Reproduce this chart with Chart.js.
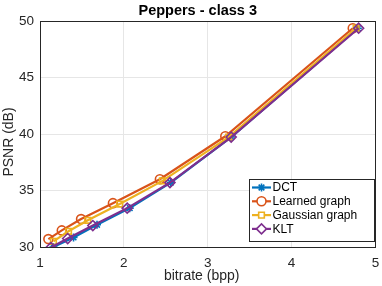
<!DOCTYPE html>
<html><head><meta charset="utf-8">
<script src="https://cdn.jsdelivr.net/npm/chart.js@4/dist/chart.umd.min.js"></script>
<style>html,body{margin:0;padding:0;background:#fff}#wrap{width:382px;height:286px}</style>
</head><body><div id="wrap"><canvas id="c" width="382" height="286"></canvas></div>
<script>
const chartTitle = "Peppers - class 3";
const xLabel = "bitrate (bpp)";
const yLabel = "PSNR (dB)";
const seriesNames = ["DCT", "Learned graph", "Gaussian graph", "KLT"];
const dctX = [1.16, 1.40, 1.68, 2.07, 2.56, 3.28, 4.79];
const dctY = [30.0, 30.85, 31.97, 33.44, 35.7, 39.73, 49.36];
const learnedX = [1.10, 1.26, 1.49, 1.87, 2.43, 3.21, 4.73];
const learnedY = [30.7, 31.47, 32.47, 33.88, 36.0, 39.8, 49.36];
const gaussX = [1.16, 1.34, 1.57, 1.95, 2.46, 3.25, 4.77];
const gaussY = [30.5, 31.39, 32.36, 33.8, 35.85, 39.73, 49.36];
const kltX = [1.13, 1.33, 1.63, 2.04, 2.55, 3.28, 4.80];
const kltY = [29.95, 30.75, 31.9, 33.44, 35.7, 39.73, 49.36];
const xTicks = [1, 2, 3, 4, 5];
const yTicks = [30, 35, 40, 45, 50];

const colors = ["#0072BD", "#D95319", "#EDB120", "#7E2F8E"];
const styles = ["star", "circle", "rect", "rectRot"];
const radii = [4, 4.5, 4, 5];
const xs = [dctX, learnedX, gaussX, kltX];
const ys = [dctY, learnedY, gaussY, kltY];
const FONT = "'Liberation Sans', Arial, Helvetica, sans-serif";
const TXT = "#262626";

const datasets = seriesNames.map((n, i) => ({
  label: n,
  data: xs[i].map((x, j) => ({x: x, y: ys[i][j]})),
  showLine: true,
  borderColor: colors[i],
  backgroundColor: colors[i],
  pointBackgroundColor: "rgba(255,255,255,0)",
  pointBorderColor: colors[i],
  pointBorderWidth: 1.6,
  pointStyle: styles[i],
  pointRadius: radii[i],
  borderWidth: 2.2,
  order: 3 - i
}));

const textPlugin = {
  id: "texts",
  afterDraw(chart) {
    const ctx = chart.ctx, a = chart.chartArea;
    ctx.save();
    ctx.textAlign = "center";
    ctx.textBaseline = "middle";
    ctx.fillStyle = "#000";
    ctx.font = "bold 14.5px " + FONT;
    ctx.fillText(chartTitle, a.left + (a.right - a.left) / 2 - 10, a.top - 10.5);
    ctx.fillStyle = TXT;
    ctx.font = "14px " + FONT;
    ctx.fillText(xLabel, a.left + (a.right - a.left) / 2 - 6, a.bottom + 29);
    ctx.translate(9, a.top + (a.bottom - a.top) / 2 + 8);
    ctx.rotate(-Math.PI / 2);
    ctx.fillText(yLabel, 0, 0);
    ctx.restore();
  }
};

const legendPlugin = {
  id: "mlegend",
  afterDraw(chart) {
    const ctx = chart.ctx;
    const ds = chart.data.datasets;
    const a = chart.chartArea;
    const w = 125, rowH = 13.8, h = 62;
    const x0 = Math.round(a.right - w - 1), y0 = Math.round(a.bottom - h - 6);
    ctx.save();
    ctx.fillStyle = "#fff";
    ctx.fillRect(x0, y0, w, h);
    ctx.strokeStyle = "#262626";
    ctx.lineWidth = 1;
    ctx.strokeRect(x0 + 0.5, y0 + 0.5, w, h);
    ds.forEach((d, i) => {
      const cy = y0 + 8.5 + i * rowH;
      ctx.strokeStyle = d.borderColor;
      ctx.lineWidth = 2.2;
      ctx.beginPath();
      ctx.moveTo(x0 + 3, cy);
      ctx.lineTo(x0 + 22, cy);
      ctx.stroke();
      ctx.strokeStyle = d.borderColor;
      ctx.fillStyle = "#fff";
      ctx.lineWidth = 1.6;
      Chart.helpers.drawPoint(ctx, {pointStyle: d.pointStyle, radius: d.pointRadius, borderWidth: 1.6, rotation: 0}, x0 + 12.5, cy);
      ctx.fillStyle = "#000";
      ctx.font = "12px " + FONT;
      ctx.textBaseline = "middle";
      ctx.textAlign = "left";
      ctx.fillText(d.label, x0 + 23.5, cy + 0.5);
    });
    ctx.restore();
  }
};

const boxPlugin = {
  id: "box",
  afterDatasetsDraw(chart) {
    const ctx = chart.ctx, a = chart.chartArea;
    ctx.save();
    ctx.strokeStyle = "#262626";
    ctx.lineWidth = 1;
    ctx.strokeRect(Math.round(a.left) + 0.5, Math.round(a.top) + 0.5, Math.round(a.right - a.left), Math.round(a.bottom - a.top));
    ctx.restore();
  }
};

new Chart(document.getElementById("c"), {
  type: "scatter",
  data: {datasets: datasets},
  options: {
    responsive: false,
    animation: false,
    devicePixelRatio: 1,
    layout: {padding: {left: 0, right: 1, top: 21, bottom: 0}},
    plugins: {
      legend: {display: false},
      tooltip: {enabled: false},
      title: {display: false}
    },
    scales: {
      x: {
        type: "linear",
        min: 1, max: 5,
        afterBuildTicks(s) { s.ticks = xTicks.map(v => ({value: v})); },
        afterFit(s) { s.height = 39; s.paddingRight = 0; },
        ticks: {color: TXT, font: {family: FONT, size: 13.5}, padding: 8, maxRotation: 0},
        grid: {color: "#e6e6e6", drawTicks: false},
        border: {display: false},
        title: {display: false}
      },
      y: {
        type: "linear",
        min: 30, max: 50,
        afterBuildTicks(s) { s.ticks = yTicks.map(v => ({value: v})); },
        afterFit(s) { s.width = 40; },
        ticks: {color: TXT, font: {family: FONT, size: 13.5}, padding: 6},
        grid: {color: "#e6e6e6", drawTicks: false},
        border: {display: false},
        title: {display: false}
      }
    }
  },
  plugins: [boxPlugin, legendPlugin, textPlugin]
});
</script>
</body></html>
